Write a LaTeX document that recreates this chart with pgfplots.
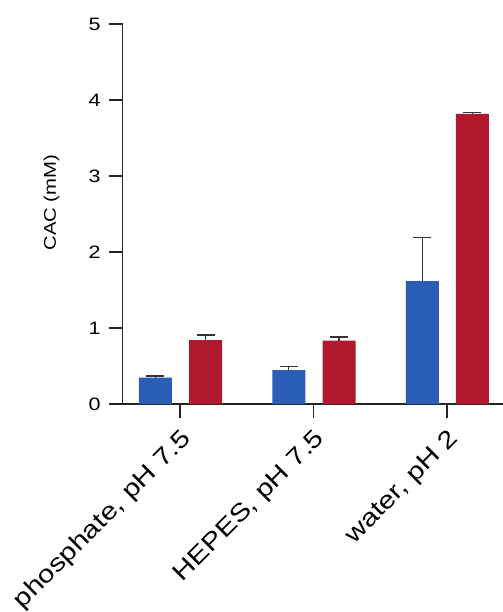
\documentclass[border=0pt]{standalone}
\usepackage{fontspec}
\setmainfont{Liberation Sans}[FakeStretch=1.2]
\usepackage{pgfplots}
\pgfplotsset{compat=1.18}
\definecolor{barblue}{RGB}{42,93,181}
\definecolor{barred}{RGB}{176,24,46}
\begin{document}
\begin{tikzpicture}
\begin{axis}[
  at={(0,0)}, anchor=south west,
  scale only axis, width=380.3bp, height=380bp,
  xmin=-0.43, xmax=2.42, ymin=0, ymax=5,
  axis lines*=left,
  axis line style={-, line width=1.4bp, black!85},
  tick align=outside,
  major tick length=13.5bp,
  tick style={line width=1.4bp, black!85},
  ytick={0,1,2,3,4,5},
  xtick={0,1,2},
  xticklabels={{phosphate, pH 7.5},{HEPES, pH 7.5},{water, pH 2}},
  /pgf/number format/assume math mode=true,
  yticklabel style={font=\fontsize{18}{21}\selectfont, anchor=east, inner sep=0pt, xshift=-8.5bp},
  xticklabel style={font=\fontsize{24.5}{28}\selectfont, rotate=45, anchor=east, inner sep=0pt, yshift=-18bp, xshift=-7bp},
  ylabel={CAC (mM)},
  ylabel style={font=\fontsize{17}{20}\selectfont, rotate=0, inner sep=0pt, anchor=base, at={(axis description cs:-0.1754,0.53)}},
  ybar, bar width=33bp,
  clip=false,
]
\addplot[bar shift=-24.7bp, fill=barblue, draw=none,
  error bars/.cd, y dir=plus, y explicit,
  error bar style={line width=1.3bp, black!80},
  error mark options={rotate=90, mark size=9bp, line width=1.3bp, black!80}]
  coordinates {(0,0.346) +- (0,0.022) (1,0.447) +- (0,0.049) (2,1.618) +- (0,0.572)};
\addplot[bar shift=25.5bp, fill=barred, draw=none,
  error bars/.cd, y dir=plus, y explicit,
  error bar style={line width=1.3bp, black!80},
  error mark options={rotate=90, mark size=9bp, line width=1.3bp, black!80}]
  coordinates {(0,0.842) +- (0,0.066) (1,0.833) +- (0,0.047) (2,3.816) +- (0,0.024)};
\end{axis}
\pgfresetboundingbox
\path (-122.7bp,-208bp) rectangle (380.3bp,404bp);
\end{tikzpicture}
\end{document}
